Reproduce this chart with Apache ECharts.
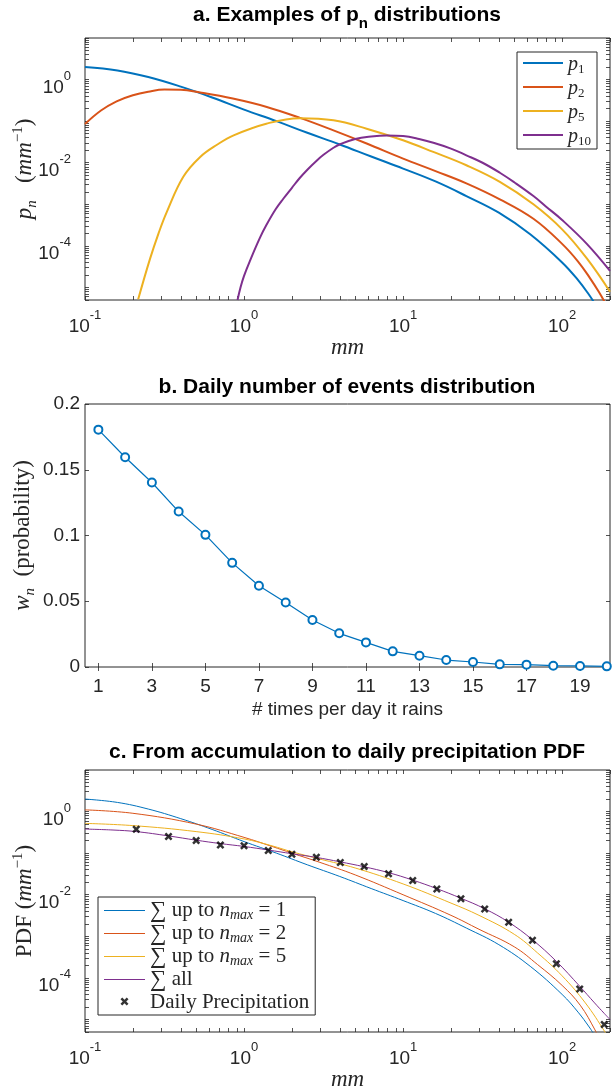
<!DOCTYPE html>
<html>
<head>
<meta charset="utf-8">
<script src="https://cdn.jsdelivr.net/npm/echarts@6/dist/echarts.min.js"></script>
<style>
  html, body { margin: 0; padding: 0; background: #fff; }
  #main { width: 615px; height: 1088px; }
</style>
</head>
<body>
<div id="main"></div>
<script>
// ---- data ----
// a. p_n distributions  [mm, mm^-1]
var p1 = [[0.1, 2.0], [0.16, 1.66], [0.25, 1.15], [0.4, 0.676], [0.63, 0.372], [1, 0.19], [1.6, 0.1], [2.5, 0.0525], [4, 0.0275], [6.3, 0.0141], [10, 0.00724], [16, 0.00355], [25, 0.00158], [40, 6.3e-4], [63, 1.9e-4], [100, 4.0e-5], [126, 1.5e-5], [148, 6.6e-6], [158, 4.5e-6]];
var p2 = [[0.1, 0.085], [0.126, 0.18], [0.158, 0.3], [0.2, 0.42], [0.25, 0.51], [0.316, 0.575], [0.4, 0.57], [0.53, 0.49], [0.85, 0.35], [1.39, 0.22], [2.25, 0.12], [3.65, 0.06], [5.9, 0.029], [10, 0.0126], [16, 0.0063], [25, 0.0032], [40.6, 0.00132], [66, 4.5e-4], [100, 1.12e-4], [126, 4.2e-5], [150, 1.66e-5], [170, 7.9e-6], [185, 4.5e-6]];
var p5 = [[0.216, 5.2e-6], [0.256, 4.8e-5], [0.29, 2.0e-4], [0.326, 6.4e-4], [0.415, 4.6e-3], [0.53, 0.0138], [0.68, 0.0275], [0.86, 0.0457], [1.38, 0.087], [2.24, 0.118], [3.65, 0.105], [5.9, 0.066], [10, 0.0347], [15.5, 0.0182], [25, 0.0087], [40.6, 0.00347], [66, 0.001], [100, 2.5e-4], [143, 5e-5], [200, 7.9e-6]];
var p10 = [[0.91, 5e-6], [0.95, 1e-5], [1.0, 1.9e-5], [1.09, 4.4e-5], [1.26, 1.58e-4], [1.39, 3.3e-4], [1.58, 7.6e-4], [1.77, 1.38e-3], [2.0, 2.5e-3], [2.24, 4.3e-3], [2.51, 6.9e-3], [2.86, 0.0112], [3.16, 0.0155], [3.65, 0.0229], [3.98, 0.0275], [5.0, 0.0372], [6.3, 0.0427], [7.9, 0.0452], [10, 0.0437], [12.6, 0.0372], [15.5, 0.0302], [20, 0.0219], [25, 0.0151], [31.6, 0.01], [40.6, 0.00575], [50, 0.00339], [66, 0.00158], [79, 8.9e-4], [100, 4.2e-4], [143, 1.12e-4], [200, 2.5e-5]];

// b. daily number of events
var nTimes = [1, 2, 3, 4, 5, 6, 7, 8, 9, 10, 11, 12, 13, 14, 15, 16, 17, 18, 19, 20];
var wN = [0.1805, 0.1595, 0.1403, 0.1182, 0.1005, 0.0792, 0.0618, 0.0491, 0.0357, 0.0256, 0.0187, 0.0119, 0.0086, 0.0053, 0.0038, 0.0020, 0.0018, 0.0010, 0.0008, 0.0005];

// c. accumulated PDFs (n_max = 1 is p1)
var sum2 = [[0.1, 1.1], [0.2, 0.91], [0.5, 0.5], [1, 0.24], [1.5, 0.145], [2, 0.1], [3, 0.06], [5, 0.03], [10, 0.01], [20, 0.0032], [30, 0.00148], [50, 5.6e-4], [70, 2.1e-4], [100, 6.6e-5], [130, 2.2e-5], [161, 5.6e-6], [170, 3.5e-6]];
var sum5 = [[0.1, 0.52], [0.2, 0.46], [0.5, 0.33], [1, 0.22], [1.5, 0.15], [2, 0.108], [3, 0.072], [5, 0.044], [10, 0.0182], [20, 0.0063], [30, 0.0032], [50, 1.12e-3], [70, 4.0e-4], [100, 1.12e-4], [140, 2.5e-5], [186, 5e-6], [195, 3.5e-6]];
var sumAll = [[0.1, 0.38], [0.15, 0.36], [0.21, 0.33], [0.335, 0.26], [0.5, 0.205], [0.71, 0.17], [1, 0.145], [1.42, 0.119], [2, 0.097], [2.85, 0.079], [4, 0.062], [5.7, 0.047], [8.1, 0.034], [11.5, 0.0225], [16.3, 0.014], [23, 0.0083], [32.6, 0.0046], [46, 0.0022], [65, 8.3e-4], [92, 2.5e-4], [129, 6.3e-5], [160, 2.5e-5], [184, 1.4e-5], [200, 1e-5]];
var dailyX = [0.21, 0.335, 0.5, 0.71, 1.0, 1.42, 2.0, 2.85, 4.03, 5.7, 8.1, 11.5, 16.3, 23.1, 32.6, 46.1, 65.1, 92, 129, 184];
var dailyY = [0.377, 0.251, 0.201, 0.158, 0.150, 0.116, 0.0946, 0.080, 0.0597, 0.0479, 0.0319, 0.0221, 0.0137, 0.0080, 0.00453, 0.00217, 8.0e-4, 2.2e-4, 5.4e-5, 7.6e-6];

// tick labels
var logXLabels = [0.1, 1, 10, 100];
var logYLabels = [1e-4, 1e-2, 1];
var nLabels = [1, 3, 5, 7, 9, 11, 13, 15, 17, 19];
var wLabels = [0, 0.05, 0.1, 0.15, 0.2];

// ---- styling ----
var SANS = '"Liberation Sans", Arial, Helvetica, sans-serif';
var SERIF = '"Liberation Serif", "DejaVu Serif", serif';
var INK = '#262626';
var COLORS = ['#0072BD', '#D95319', '#EDB120', '#7E2F8E'];
var XMARK = 'path://M0,2.2L2.2,0L5,2.8L7.8,0L10,2.2L7.2,5L10,7.8L7.8,10L5,7.2L2.2,10L0,7.8L2.8,5Z';
var LINE2 = 'path://M0,0H40V2H0Z';
var LINE1 = 'path://M0,0H40V1H0Z';

function decadeTicks(lo, hi) {
  var out = [];
  for (var e = -6; e <= 3; e++) {
    for (var m = 1; m <= 9; m++) {
      var v = parseFloat((m * Math.pow(10, e)).toPrecision(2));
      if (v >= lo && v <= hi) out.push(v);
    }
  }
  return out;
}

var tickRich = {
  b: { fontFamily: SANS, fontSize: 19, color: INK, lineHeight: 19, verticalAlign: 'top', padding: [8, 0, 8, 0] },
  s: { fontFamily: SANS, fontSize: 13, color: INK, lineHeight: 13, verticalAlign: 'top' }
};
function powLabel(v) {
  var e = Math.round(Math.log10(v));
  return '{b|10}{s|' + e + '}';
}

// serif "math" text: main size, padding above main text, padding above subscripts, padding above superscripts
function mathRich(size, mainPad, subPad, supPad, sumSize) {
  var small = Math.round(size * 0.65);
  function st(extra) {
    return Object.assign({ fontFamily: SERIF, color: INK, verticalAlign: 'top' }, extra);
  }
  return {
    i: st({ fontStyle: 'italic', fontSize: size, lineHeight: size, padding: [mainPad, 0, 0, 0] }),
    r: st({ fontSize: size, lineHeight: size, padding: [mainPad, 0, 0, 0] }),
    sub: st({ fontStyle: 'italic', fontSize: small, lineHeight: small, padding: [subPad, 0, 0, 0] }),
    subr: st({ fontSize: small, lineHeight: small, padding: [subPad, 0, 0, 0] }),
    sup: st({ fontSize: small, lineHeight: small, padding: [supPad, 0, 0, 0] }),
    sum: st({ fontSize: sumSize || size, lineHeight: sumSize || size, padding: [0, 0, 0, 0] })
  };
}
var nameRich = mathRich(23, 4, 16, 2);

var tickStyle = { inside: true, length: 4, lineStyle: { color: INK, width: 0.8 } };

function logX(grid, pos, withLabels, name) {
  return {
    type: 'log', logBase: 10, gridIndex: grid, position: pos, min: 0.1, max: 200,
    axisLine: { show: false }, splitLine: { show: false },
    axisTick: Object.assign({ customValues: decadeTicks(0.1, 200) }, tickStyle),
    axisLabel: withLabels ? { customValues: logXLabels, formatter: powLabel, rich: tickRich, margin: 9 } : { show: false },
    name: name || '', nameLocation: 'middle', nameGap: 32, nameMoveOverlap: false,
    nameTextStyle: { rich: nameRich }
  };
}
function logY(grid, pos, withLabels, name) {
  return {
    type: 'log', logBase: 10, gridIndex: grid, position: pos, min: 5e-6, max: 10,
    axisLine: { show: false }, splitLine: { show: false },
    axisTick: Object.assign({ customValues: decadeTicks(5e-6, 10) }, tickStyle),
    axisLabel: withLabels ? { customValues: logYLabels, formatter: powLabel, rich: tickRich, margin: 14 } : { show: false },
    name: name || '', nameLocation: 'middle', nameGap: 53, nameRotate: 90, nameMoveOverlap: false,
    nameTextStyle: { rich: nameRich }
  };
}

var chart = echarts.init(document.getElementById('main'), null, { renderer: 'canvas' });

var gridBox = { show: true, borderColor: INK, borderWidth: 1, backgroundColor: '#fff', containLabel: false, outerBoundsMode: 'none' };
var titleFont = { fontFamily: SANS, fontWeight: 'bold', fontSize: 21, color: '#000' };

var option = {
  animation: false,
  backgroundColor: '#fff',
  title: [
    { text: '{t|a. Examples of p}{ts|n}{t| distributions}', left: 347, top: 5, textAlign: 'center', padding: 0,
      textStyle: { rich: {
        t: Object.assign({ lineHeight: 21, verticalAlign: 'top' }, titleFont),
        ts: Object.assign({}, titleFont, { fontSize: 15, lineHeight: 15, verticalAlign: 'top', padding: [11, 0, 0, 0] })
      } } },
    { text: 'b. Daily number of events distribution', left: 347, top: 377, textAlign: 'center', padding: 0, textStyle: titleFont },
    { text: 'c. From accumulation to daily precipitation PDF', left: 347, top: 742, textAlign: 'center', padding: 0, textStyle: titleFont }
  ],
  grid: [
    Object.assign({ left: 85, top: 38, width: 525, height: 262 }, gridBox),
    Object.assign({ left: 85, top: 404, width: 525, height: 263 }, gridBox),
    Object.assign({ left: 85, top: 770, width: 525, height: 262 }, gridBox)
  ],
  xAxis: [
    logX(0, 'bottom', true, '{i|mm}'),
    logX(0, 'top', false),
    {
      type: 'value', gridIndex: 1, position: 'bottom', min: 0.5, max: 20.12,
      axisLine: { show: false }, splitLine: { show: false },
      axisTick: Object.assign({ customValues: nLabels }, tickStyle),
      axisLabel: { customValues: nLabels, fontFamily: SANS, fontSize: 19, color: INK, margin: 10 },
      name: '# times per day it rains', nameLocation: 'middle', nameGap: 33, nameMoveOverlap: false,
      nameTextStyle: { fontFamily: SANS, fontSize: 19, color: INK }
    },
    {
      type: 'value', gridIndex: 1, position: 'top', min: 0.5, max: 20.12,
      axisLine: { show: false }, splitLine: { show: false },
      axisTick: Object.assign({ customValues: nLabels }, tickStyle),
      axisLabel: { show: false }
    },
    logX(2, 'bottom', true, '{i|mm}'),
    logX(2, 'top', false)
  ],
  yAxis: [
    logY(0, 'left', true, '{i|p}{sub|n}{r|   (}{i|mm}{sup|\u22121}{r|)}'),
    logY(0, 'right', false),
    {
      type: 'value', gridIndex: 1, position: 'left', min: 0, max: 0.2, interval: 0.05,
      axisLine: { show: false }, splitLine: { show: false },
      axisTick: tickStyle,
      axisLabel: { customValues: wLabels, fontFamily: SANS, fontSize: 19, color: INK, margin: 5 },
      name: '{i|w}{sub|n}{r|  (probability)}', nameLocation: 'middle', nameGap: 55, nameRotate: 90, nameMoveOverlap: false,
      nameTextStyle: { rich: nameRich }
    },
    {
      type: 'value', gridIndex: 1, position: 'right', min: 0, max: 0.2, interval: 0.05,
      axisLine: { show: false }, splitLine: { show: false },
      axisTick: tickStyle, axisLabel: { show: false }
    },
    logY(2, 'left', true, '{r|PDF (}{i|mm}{sup|\u22121}{r|)}'),
    logY(2, 'right', false)
  ],
  legend: [
    {
      data: [{ name: 'p1', icon: LINE2 }, { name: 'p2', icon: LINE2 }, { name: 'p5', icon: LINE2 }, { name: 'p10', icon: LINE2 }],
      left: 517, top: 52, orient: 'vertical',
      itemWidth: 40, itemHeight: 10, itemGap: 1,
      padding: [1, 6, 1, 6],
      borderColor: INK, borderWidth: 1, backgroundColor: '#fff',
      selectedMode: false,
      formatter: function (name) { return '{i|p}{subr|' + name.slice(1) + '}'; },
      textStyle: { rich: mathRich(20, 2, 10, 0) }
    },
    {
      data: [{ name: 'n1', icon: LINE1 }, { name: 'n2', icon: LINE1 }, { name: 'n5', icon: LINE1 }, { name: 'all', icon: LINE1 }, { name: 'daily', icon: XMARK }],
      left: 98, top: 897, orient: 'vertical',
      itemWidth: 41, itemHeight: 8, itemGap: 0,
      padding: [2, 6, 2, 6],
      borderColor: INK, borderWidth: 1, backgroundColor: '#fff',
      selectedMode: false,
      formatter: function (name) {
        var map = {
          n1: '{sum|\u2211}{r| up to }{i|n}{sub|max}{r| = 1}',
          n2: '{sum|\u2211}{r| up to }{i|n}{sub|max}{r| = 2}',
          n5: '{sum|\u2211}{r| up to }{i|n}{sub|max}{r| = 5}',
          all: '{sum|\u2211}{r| all}',
          daily: '{r|Daily Precipitation}'
        };
        return map[name];
      },
      textStyle: { rich: mathRich(21, 1, 9, 0, 23) }
    }
  ],
  series: [
    { name: 'p1', type: 'line', xAxisIndex: 0, yAxisIndex: 0, data: p1, symbol: 'none', smooth: 0.4, lineStyle: { width: 2, color: COLORS[0] }, itemStyle: { color: COLORS[0] } },
    { name: 'p2', type: 'line', xAxisIndex: 0, yAxisIndex: 0, data: p2, symbol: 'none', smooth: 0.4, lineStyle: { width: 2, color: COLORS[1] }, itemStyle: { color: COLORS[1] } },
    { name: 'p5', type: 'line', xAxisIndex: 0, yAxisIndex: 0, data: p5, symbol: 'none', smooth: 0.4, lineStyle: { width: 2, color: COLORS[2] }, itemStyle: { color: COLORS[2] } },
    { name: 'p10', type: 'line', xAxisIndex: 0, yAxisIndex: 0, data: p10, symbol: 'none', smooth: 0.4, lineStyle: { width: 2, color: COLORS[3] }, itemStyle: { color: COLORS[3] } },

    { name: 'wn', type: 'line', xAxisIndex: 2, yAxisIndex: 2,
      data: nTimes.map(function (n, i) { return [n, wN[i]]; }),
      symbol: 'emptyCircle', symbolSize: 8, clip: false,
      lineStyle: { width: 1.2, color: COLORS[0] },
      itemStyle: { color: COLORS[0], borderColor: COLORS[0], borderWidth: 1.4 } },

    { name: 'n1', type: 'line', xAxisIndex: 4, yAxisIndex: 4, data: p1, symbol: 'none', smooth: 0.4, lineStyle: { width: 1, color: COLORS[0] }, itemStyle: { color: COLORS[0] } },
    { name: 'n2', type: 'line', xAxisIndex: 4, yAxisIndex: 4, data: sum2, symbol: 'none', smooth: 0.4, lineStyle: { width: 1, color: COLORS[1] }, itemStyle: { color: COLORS[1] } },
    { name: 'n5', type: 'line', xAxisIndex: 4, yAxisIndex: 4, data: sum5, symbol: 'none', smooth: 0.4, lineStyle: { width: 1, color: COLORS[2] }, itemStyle: { color: COLORS[2] } },
    { name: 'all', type: 'line', xAxisIndex: 4, yAxisIndex: 4, data: sumAll, symbol: 'none', smooth: 0.4, lineStyle: { width: 1, color: COLORS[3] }, itemStyle: { color: COLORS[3] } },
    { name: 'daily', type: 'scatter', xAxisIndex: 4, yAxisIndex: 4,
      data: dailyX.map(function (x, i) { return [x, dailyY[i]]; }),
      symbol: XMARK, symbolSize: 8, clip: false, itemStyle: { color: '#000' }, z: 5 }
  ]
};

chart.setOption(option);
</script>
</body>
</html>
